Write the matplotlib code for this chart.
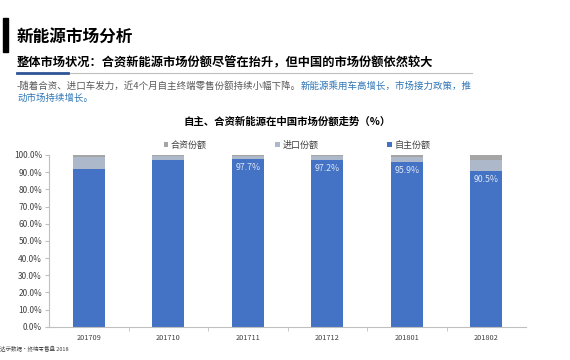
import numpy as np
import matplotlib
matplotlib.use('Agg')
import matplotlib.pyplot as plt
from matplotlib.patches import Rectangle
from matplotlib.lines import Line2D

plt.rcParams['font.family'] = ['Noto Sans CJK SC', 'DejaVu Sans']

months = ['201709', '201710', '201711', '201712', '201801', '201802']
own_share = [91.7, 97.0, 97.7, 97.2, 95.9, 90.5]
import_share = [7.3, 2.5, 2.0, 2.0, 3.2, 6.6]
jv_share = [1.0, 0.5, 0.3, 0.8, 0.9, 2.9]
labelled = [False, False, True, True, True, True]

c_own = '#4472C4'
c_imp = '#ADB9CA'
c_jv = '#A5A5A5'

fig = plt.figure(figsize=(5.7, 3.6), dpi=100)

# page header
fig.patches.append(Rectangle((3/570, 1-52/360), 5/570, 34/360, transform=fig.transFigure,
                             color='black', zorder=5))
fig.text(17/570, 1-37/360, '新能源市场分析', fontsize=12, fontweight='bold', va='center', ha='left')
fig.text(17/570, 1-63/360, '整体市场状况：合资新能源市场份额尽管在抬升，但中国的市场份额依然较大',
         fontsize=8.8, fontweight='bold', va='center', ha='left')
fig.lines.append(Line2D([17/570, 472/570], [1-73/360, 1-73/360], transform=fig.transFigure,
                        color='#BFBFBF', lw=0.8))
fig.lines.append(Line2D([17/570, 68/570], [1-73/360, 1-73/360], transform=fig.transFigure,
                        color='#2F5597', lw=2))
t1 = fig.text(17/570, 1-86/360, '-随着合资、进口车发力，近4个月自主终端零售份额持续小幅下降。',
              fontsize=6.8, color='#595959', va='center', ha='left')
fig.canvas.draw()
bb = t1.get_window_extent()
fig.text(bb.x1/570, 1-86/360, '新能源乘用车高增长，市场接力政策，推',
         fontsize=6.8, color='#2E75B6', va='center', ha='left')
fig.text(17/570, 1-98/360, '动市场持续增长。', fontsize=6.8, color='#2E75B6', va='center', ha='left')

fig.text(287/570, 1-122/360, '自主、合资新能源在中国市场份额走势（%）', fontsize=7.5,
         fontweight='bold', va='center', ha='center')
fig.text(0, 1-349/360, '达示数据·终端零售盘 2018', fontsize=4, color='#404040', va='center', ha='left')

ax = fig.add_axes([49/570, 1-326.7/360, (526-49)/570, (326.7-155)/360])
x = np.arange(len(months))
own = np.array(own_share)
imp = np.array(import_share)
jv = np.array(jv_share)
ax.bar(x, own, width=0.4, color=c_own, label='自主份额')
ax.bar(x, imp, width=0.4, bottom=own, color=c_imp, label='进口份额')
ax.bar(x, jv, width=0.4, bottom=own+imp, color=c_jv, label='合资份额')

for xi, v, show in zip(x, own_share, labelled):
    if show:
        ax.annotate(f'{v:.1f}%', (xi, v), xytext=(0, -3), textcoords='offset points',
                    ha='center', va='top', fontsize=6.3, color='#DCE6F5')

ax.set_xlim(-0.5, len(months)-0.5)
ax.set_ylim(0, 100)
ax.set_yticks(np.arange(0, 101, 10))
ax.set_yticklabels([f'{v:.1f}%' for v in np.arange(0, 101, 10)], fontsize=6.0, color='#404040')
ax.set_xticks(x)
ax.set_xticklabels(months, fontsize=5.3, color='#404040')
ax.set_xticks(np.arange(0.5, len(months)-0.5, 1), minor=True)
ax.tick_params(axis='x', which='major', length=0, pad=5)
ax.tick_params(axis='x', which='minor', length=3, color='#BFBFBF')
ax.tick_params(axis='y', length=3, color='#BFBFBF', pad=2)
for s in ['top', 'right']:
    ax.spines[s].set_visible(False)
for s in ['left', 'bottom']:
    ax.spines[s].set_color('#BFBFBF')
    ax.spines[s].set_linewidth(0.8)

h, l = ax.get_legend_handles_labels()
leg = fig.legend(h[::-1], l[::-1], loc='center', bbox_to_anchor=(297/570, 1-145/360), ncol=3,
                 frameon=False, fontsize=6.5, handlelength=0.5, handleheight=0.5,
                 handletextpad=0.3, columnspacing=7.6, labelcolor='#404040')

fig.savefig('out.png', dpi=100)
